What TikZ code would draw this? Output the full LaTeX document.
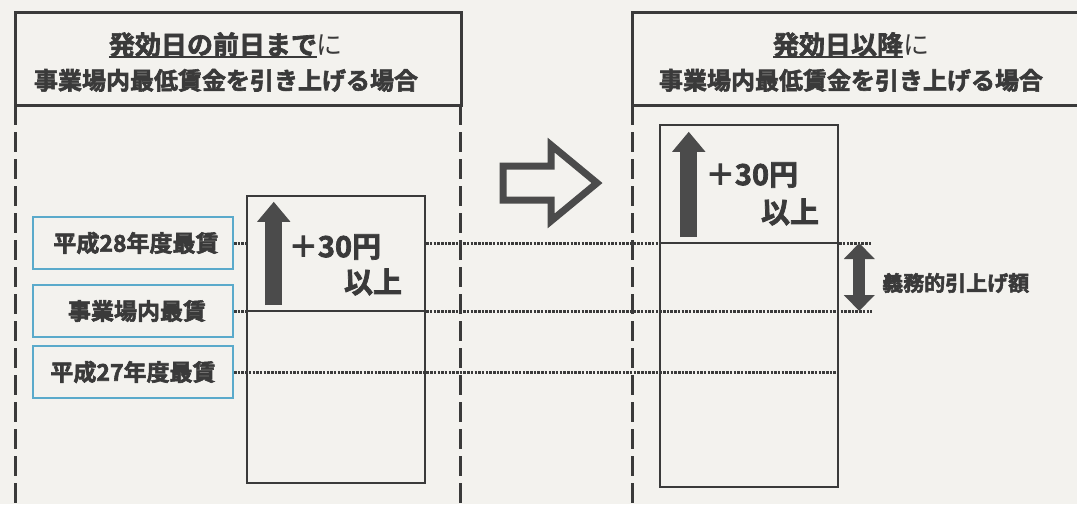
\documentclass[tikz,border=0pt]{standalone}
\usepackage{fontspec}
\setmainfont{Noto Sans CJK JP}[BoldFont={Noto Sans CJK JP Bold}, BoldFeatures={FakeBold=2.5}]
\usetikzlibrary{arrows.meta,positioning}
\definecolor{paper}{HTML}{F3F2EE}
\definecolor{ink}{HTML}{3A3A3A}
\definecolor{arrowgray}{HTML}{4B4B4B}
\definecolor{labelcyan}{HTML}{5AAACB}
\newcommand\hdunder[1]{\setbox0=\hbox{#1}\rlap{\rule[-4pt]{\wd0}{2.5pt}}\box0}

\begin{document}
\begin{tikzpicture}[
  x = 1pt, y = -1pt,
  header/.style = {draw = ink, line width = 3pt},
  panel/.style = {draw = ink, line width = 3pt, dash pattern = on 20pt off 7pt},
  bar/.style = {draw = ink, line width = 2.5pt, minimum width = 178pt, inner sep = 0pt},
  dotline/.style = {draw = ink, line width = 3pt, dash pattern = on 2.5pt off 1.2pt},
  solidline/.style = {draw = ink, line width = 2.5pt},
  level/.style = {draw = labelcyan, line width = 2pt, minimum width = 200pt,
                  minimum height = 52pt, inner sep = 0pt, text = ink,
                  font = \bfseries\fontsize{23pt}{26pt}\selectfont},
  uparrow/.style = {arrowgray, line width = 17pt, -{Triangle[width = 32pt, length = 20pt]}},
  updown/.style = {arrowgray, line width = 12pt,
                   {Triangle[width = 30pt, length = 16pt]}-{Triangle[width = 30pt, length = 16pt]}},
  amount/.style = {text = ink, inner sep = 0pt, font = \bfseries\fontsize{29pt}{32pt}\selectfont},
  title/.style = {text = ink, align = center, inner sep = 0pt,
                  font = \bfseries\fontsize{24pt}{35pt}\selectfont},
  ]
  \fill[paper] (0,0) rectangle (1077,504);
  \useasboundingbox (0,0) rectangle (1077,504);

  % headers and panel edges
  \draw[header] (15,12) rectangle (461,105);
  \draw[header] (1077,12) -- (632,12) -- (632,105) -- (1077,105);
  \draw[panel] (15,105) -- (15,504);
  \draw[panel] (460,105) -- (460,504);
  \draw[panel] (632,105) -- (632,504);
  \node[title] (titleL) at (226,62)
    {{\fontsize{26pt}{35pt}\selectfont\hdunder{発効日の前日まで}\mdseries に}\\事業場内最低賃金を引き上げる場合};
  \node[title] (titleR) at (851,62)
    {{\fontsize{26pt}{35pt}\selectfont\hdunder{発効日以降}\mdseries に}\\事業場内最低賃金を引き上げる場合};

  % wage levels
  \node[level] (lab28) at (133,243) {\hspace{6pt}平成28年度最賃};
  \node[level] (labown) at (133,311) {\hspace{8pt}事業場内最賃};
  \node[level] (lab27) at (133,372) {平成27年度最賃};

  \node[bar, minimum height = 287pt] (barL) at (336,339.5) {};
  \node[bar, minimum height = 362pt] (barR) at (749,306) {};
  \coordinate (rim) at (872,0);

  \draw[dotline] (lab28.east) -- (lab28.east -| barL.west);
  \draw[dotline] (lab28.east -| barL.east) -- (lab28.east -| barR.west);
  \draw[solidline] (lab28.east -| barR.west) -- (lab28.east -| barR.east);
  \draw[dotline] (lab28.east -| barR.east) -- (rim |- lab28.east);

  \draw[dotline] (labown.east) -- (labown.east -| barL.west);
  \draw[solidline] (labown.east -| barL.west) -- (labown.east -| barL.east);
  \draw[dotline] (labown.east -| barL.east) -- (rim |- labown.east);

  \draw[dotline] (lab27.east) -- (lab27.east -| barR.east);

  % raises
  \draw[uparrow] ([xshift = 28pt, yshift = 6pt]barL.west |- labown.east)
    -- ([xshift = 28pt, yshift = -7pt]barL.north west);
  \node[amount] (plusL) at (335,247) {＋30円};
  \node[amount] (moreL) at (373,282) {以上};

  \draw[uparrow] ([xshift = 30pt, yshift = 6pt]barR.west |- lab28.east)
    -- ([xshift = 30pt, yshift = -8pt]barR.north west);
  \node[amount] (plusR) at (752,175) {＋30円};
  \node[amount] (moreR) at (790,212) {以上};

  \draw[updown] ([xshift = 20pt]barR.east |- lab28.east)
    -- ([xshift = 20pt]barR.east |- labown.east);
  \node[text = ink, anchor = west, inner sep = 0pt,
        font = \bfseries\fontsize{21pt}{24pt}\selectfont] (gap) at (882,283) {義務的引上げ額};

  % hollow arrow between panels
  \draw[arrowgray, line width = 7pt, line join = miter]
    (503,166) -- (551,166) -- (551,145) -- (597,183) -- (551,221) -- (551,200) -- (503,200) -- cycle;
\end{tikzpicture}
\end{document}
